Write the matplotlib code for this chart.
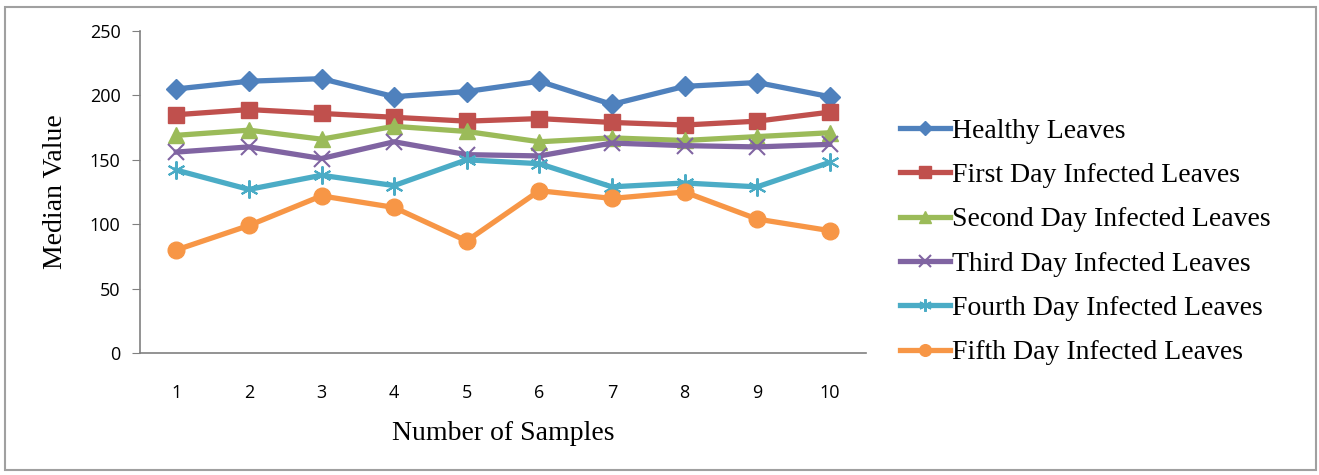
import matplotlib.pyplot as plt
from matplotlib.patches import Rectangle

samples = [1, 2, 3, 4, 5, 6, 7, 8, 9, 10]
healthy = [205, 211, 213, 199, 203, 211, 193, 207, 210, 199]
day1 = [185, 189, 186, 183, 180, 182, 179, 177, 180, 187]
day2 = [169, 173, 166, 176, 172, 164, 167, 165, 168, 171]
day3 = [156, 160, 151, 164, 154, 153, 163, 161, 160, 162]
day4 = [142, 127, 138, 130, 150, 147, 129, 132, 129, 148]
day5 = [80, 99, 122, 113, 87, 126, 120, 125, 104, 95]

labels = ["Healthy Leaves", "First Day Infected Leaves", "Second Day Infected Leaves",
          "Third Day Infected Leaves", "Fourth Day Infected Leaves", "Fifth Day Infected Leaves"]

fig = plt.figure(figsize=(13.19, 4.75), dpi=100)
fig.add_artist(Rectangle((0.004, 0.01), 0.994, 0.975, transform=fig.transFigure,
                         fill=False, edgecolor="#a0a0a0", lw=1.5))

W, H = 1319, 475
ax = fig.add_axes([140 / W, 1 - 353 / H, (866 - 140) / W, (353 - 31) / H])

ax.plot(samples, healthy, color="#4F81BD", lw=3.8, marker="D", ms=10, label=labels[0])
ax.plot(samples, day1, color="#C0504D", lw=3.8, marker="s", ms=12, label=labels[1])
ax.plot(samples, day2, color="#9BBB59", lw=3.8, marker="^", ms=12, label=labels[2])
ax.plot(samples, day3, color="#8064A2", lw=3.8, marker="x", ms=12, mew=1.5, label=labels[3])
ax.plot(samples, day4, color="#4BACC6", lw=3.8, marker=(6, 2, 0), ms=13, mew=1.5, label=labels[4])
ax.plot(samples, day5, color="#F79646", lw=3.8, marker="o", ms=12, label=labels[5])

ax.set_xlim(0.5, 10.5)
ax.set_ylim(0, 250)
ax.set_yticks([0, 50, 100, 150, 200, 250])
ax.set_xticks(samples)
ax.spines["top"].set_visible(False)
ax.spines["right"].set_visible(False)
for s in ["left", "bottom"]:
    ax.spines[s].set_color("#808080")
    ax.spines[s].set_linewidth(1.2)
ax.tick_params(axis="y", length=6, color="#808080", labelsize=13, pad=8)
ax.tick_params(axis="x", length=0, labelsize=13, pad=22)
for t in ax.get_xticklabels() + ax.get_yticklabels():
    t.set_fontfamily("Open Sans")

ax.set_ylabel("Median Value", fontfamily="Liberation Serif", fontsize=20, labelpad=16)
ax.set_xlabel("Number of Samples", fontfamily="Liberation Serif", fontsize=20, labelpad=14)

ax.legend(loc="center left", bbox_to_anchor=(1.047, 0.345), frameon=False,
          prop={"family": "Liberation Serif", "size": 20}, handlelength=1.8,
          handletextpad=0.05, labelspacing=0.68, markerscale=0.7,
          borderaxespad=0, borderpad=0)

plt.savefig("out.png")
